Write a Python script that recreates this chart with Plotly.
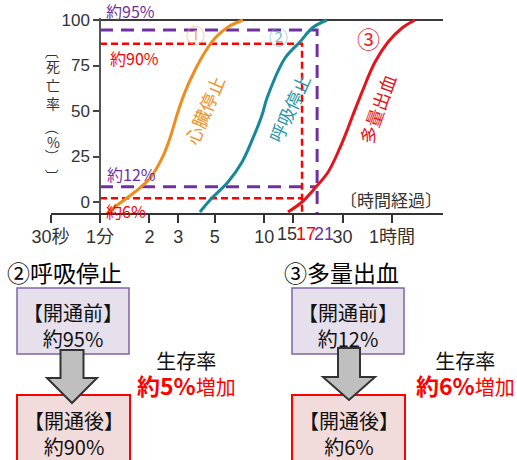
import numpy as np
import plotly.graph_objects as go

W, H = 517, 460

# ---------------- data (time in minutes, death rate in %) ----------------
cardiac_t = [1.12, 1.23, 1.63, 2.02, 2.39, 2.67, 2.94, 3.29, 3.79, 4.36, 5.02, 6.02, 7.43]
cardiac_y = [-6.0, -2.7, 5.5, 13.2, 24.2, 35.2, 47.8, 60.4, 72.5, 82.4, 90.1, 96.2, 100]
resp_t = [4.06, 4.68, 6.02, 7.33, 8.55, 9.70, 10.4, 13.4, 16.5, 19.6, 24.1]
resp_y = [-5.5, 1.1, 11.0, 22.0, 35.2, 47.8, 57.1, 79.1, 87.9, 95.6, 100]
bleed_t = [13.96, 17.0, 20.4, 24.5, 28.9, 32.4, 34.7, 39.4, 47.3, 56.8, 69.1, 82.9]
bleed_y = [-5.5, 0.0, 7.7, 16.5, 29.7, 40.7, 47.8, 60.4, 76.9, 87.9, 95.6, 100]

# reference levels (as drawn) and times
purple_levels = [94.5, 8.4]   # labelled 約95% / 約12%
red_levels = [87.0, 2.0]      # labelled 約90% / 約6%
purple_time = 21
red_time = 17
purple_labels = ["約95%", "約12%"]
red_labels = ["約90%", "約6%"]

y_tickvals = [0, 25, 50, 75, 100]
x_tickvals = [0.5, 1, 2, 3, 5, 10, 15, 30, 60]
x_ticktext = ["30秒", "1分", "2", "3", "5", "10", "", "30", "1時間"]
extra_xlabels = [("15", 15, "#333333"), ("17", 17, "#ff0000"), ("21", 21, "#7030a0")]

curve_names = ["心臓停止", "呼吸停止", "多量出血"]
curve_marks = ["①", "②", "③"]

# bottom panel texts
panels = [
    dict(title="②呼吸停止", before="約95%", after="約90%", gain="約5%"),
    dict(title="③多量出血", before="約12%", after="約6%", gain="約6%"),
]

# ---------------- geometry helpers ----------------
def px(x):
    return x / W

def py(y):
    return 1 - y / H

x_left_px, x_right_px = 50.6, 443.0
x_per_decade = 164.2
x_range = [np.log10(0.5), (x_right_px - 100) / x_per_decade]
y_per_unit = 1.82
y_bottom_px = 213.0
y_top_px = 20 - 1.0 * y_per_unit
y_range = [(202 - y_bottom_px) / y_per_unit, 101]

TICKF = "Liberation Sans, Arial, Noto Sans CJK JP, sans-serif"
CJK = "Noto Sans CJK JP, sans-serif"

fig = go.Figure()

ybase = y_range[0]
t_end = 10 ** x_range[1]

# top 100% line
fig.add_trace(go.Scatter(x=[1, t_end], y=[100, 100], mode="lines",
                         line=dict(color="#3a3a3a", width=2), hoverinfo="skip"))

# dashed guides
fig.add_trace(go.Scatter(
    x=[1, purple_time, purple_time, None, 1, purple_time],
    y=[purple_levels[0], purple_levels[0], ybase, None, purple_levels[1], purple_levels[1]],
    mode="lines", line=dict(color="#7030a0", width=3, dash="13px,8px"), hoverinfo="skip"))
fig.add_trace(go.Scatter(
    x=[1, red_time, red_time, None, 1, red_time],
    y=[red_levels[0], red_levels[0], ybase, None, red_levels[1], red_levels[1]],
    mode="lines", line=dict(color="#ff0000", width=2.5, dash="7px,4px"), hoverinfo="skip"))

# curves
for t, y, c in [(cardiac_t, cardiac_y, "#f08c1e"), (resp_t, resp_y, "#15889a"),
                (bleed_t, bleed_y, "#e5141c")]:
    fig.add_trace(go.Scatter(x=t, y=y, mode="lines", line=dict(color=c, width=3, shape="spline"),
                             hoverinfo="skip"))

fig.update_layout(
    template="none",
    width=W, height=H, autosize=False,
    margin=dict(l=0, r=0, t=0, b=0, pad=0, autoexpand=False),
    paper_bgcolor="white", plot_bgcolor="white", showlegend=False,
    xaxis=dict(type="log", range=x_range, domain=[px(x_left_px), px(x_right_px)],
               automargin=False,
               showline=True, linecolor="#333333", linewidth=2, ticks="outside", ticklen=8,
               tickwidth=1.5, tickcolor="#333333", tickvals=x_tickvals, ticktext=x_ticktext,
               showgrid=False, zeroline=False, ticklabelstandoff=-2,
               tickfont=dict(family=TICKF, size=18, color="#333333")),
    yaxis=dict(range=y_range, domain=[py(y_bottom_px), py(y_top_px)], anchor="free",
               automargin=False,
               position=px(100), showline=True, linecolor="#555555", linewidth=1.5,
               ticks="outside", ticklen=6, tickwidth=1.5, tickcolor="#444444",
               tickvals=y_tickvals, showgrid=False, zeroline=False,
               tickfont=dict(family=TICKF, size=17, color="#333333")),
)

ann = []

def A(x, y, text, size, color, family=CJK, xanchor="center", yanchor="middle", **kw):
    d = dict(x=px(x), y=py(y), xref="paper", yref="paper", text=text, showarrow=False,
             xanchor=xanchor, yanchor=yanchor, font=dict(family=family, size=size, color=color))
    d.update(kw)
    ann.append(d)

# extra x labels (packed like the original)
shifts = {"15": -6, "17": 4, "21": 7}
for txt, v, col in extra_xlabels:
    ann.append(dict(x=np.log10(v), xref="x", y=py(234), yref="paper", text=txt, showarrow=False,
                    xshift=shifts[txt], xanchor="center", yanchor="middle",
                    font=dict(family=TICKF, size=18, color=col)))

# 時間経過
A(444, 200, "〔時間経過〕", 17, "#333333", xanchor="right")

# y title (vertical writing: brackets rotated)
ytitle = [("〔", 52, 90), ("死", 66, 0), ("亡", 85, 0), ("率", 103, 0), ("（", 128, 90),
          ("%", 142, 0), ("）", 156, 90), ("〕", 176, 90)]
for ch, yy, ang in ytitle:
    A(53, yy, ch, 14, "#333333", textangle=ang)

# level labels
for txt, (cx, cy) in zip(purple_labels, [(130, 11), (131, 174)]):
    A(cx, cy, txt, 16, "#7030a0")
for txt, (cx, cy) in zip(red_labels, [(134, 58), (126, 211)]):
    A(cx, cy, txt, 16, "#ff0000")

# circled numbers
for mk, (cx, cy), col, sz in zip(curve_marks, [(195, 34), (278, 37), (368, 38)],
                                 ["#f0b27a", "#7fc2cc", "#e8232a"], [19, 19, 23]):
    A(cx, cy, mk, sz, col)

# curve labels (rotated)
for name, (cx, cy), ang, col in zip(curve_names, [(204, 110), (289, 108), (377, 109)],
                                    [-67, -65, -70], ["#f0902a", "#2a97a8", "#e5141c"]):
    A(cx, cy, name, 18, col, textangle=ang)

# ---------------- bottom panels ----------------
shapes = []
box_x = [(17, 129), (292, 404)]
arrows = [
    [(60.5, 350), (83.5, 350), (83.5, 378), (97, 378), (72, 403), (47, 378), (60.5, 378)],
    [(338, 348), (360, 348), (360, 377), (375, 377), (349, 400), (323, 377), (338, 377)],
]
title_x = [5, 282]
side_cx = [186, 465]

for i, p in enumerate(panels):
    x0, x1 = box_x[i]
    cx = (x0 + x1) / 2
    shapes.append(dict(type="rect", xref="paper", yref="paper", x0=px(x0), x1=px(x1),
                       y0=py(354), y1=py(288), fillcolor="#e5e0ec",
                       line=dict(color="#8064a2", width=1.5), layer="above"))
    shapes.append(dict(type="rect", xref="paper", yref="paper", x0=px(x0), x1=px(x1 + 1),
                       y0=py(475), y1=py(395), fillcolor="#f2dcdb",
                       line=dict(color="#ff0000", width=2), layer="above"))
    path = "M " + " L ".join(f"{px(a):.5f},{py(b):.5f}" for a, b in arrows[i]) + " Z"
    shapes.append(dict(type="path", xref="paper", yref="paper", path=path,
                       fillcolor="#bfbfbf", line=dict(color="#333333", width=2), layer="above"))

    A(title_x[i], 272, p["title"], 23, "#000000", xanchor="left")
    A(cx, 325, f"【開通前】<br>{p['before']}", 20, "#111111")
    A(cx + 1, 433, f"【開通後】<br>{p['after']}", 20, "#111111")
    A(side_cx[i], 374,
      f"<span style='color:#111111'>生存率</span><br>"
      f"<b><span style='font-size:23px'>{p['gain']}</span></b>増加", 20, "#ff0000")

fig.update_layout(annotations=ann, shapes=shapes)
fig.write_html("out.html", config={"displayModeBar": False},
               post_script="document.body.style.margin='0';document.body.style.padding='0';")
